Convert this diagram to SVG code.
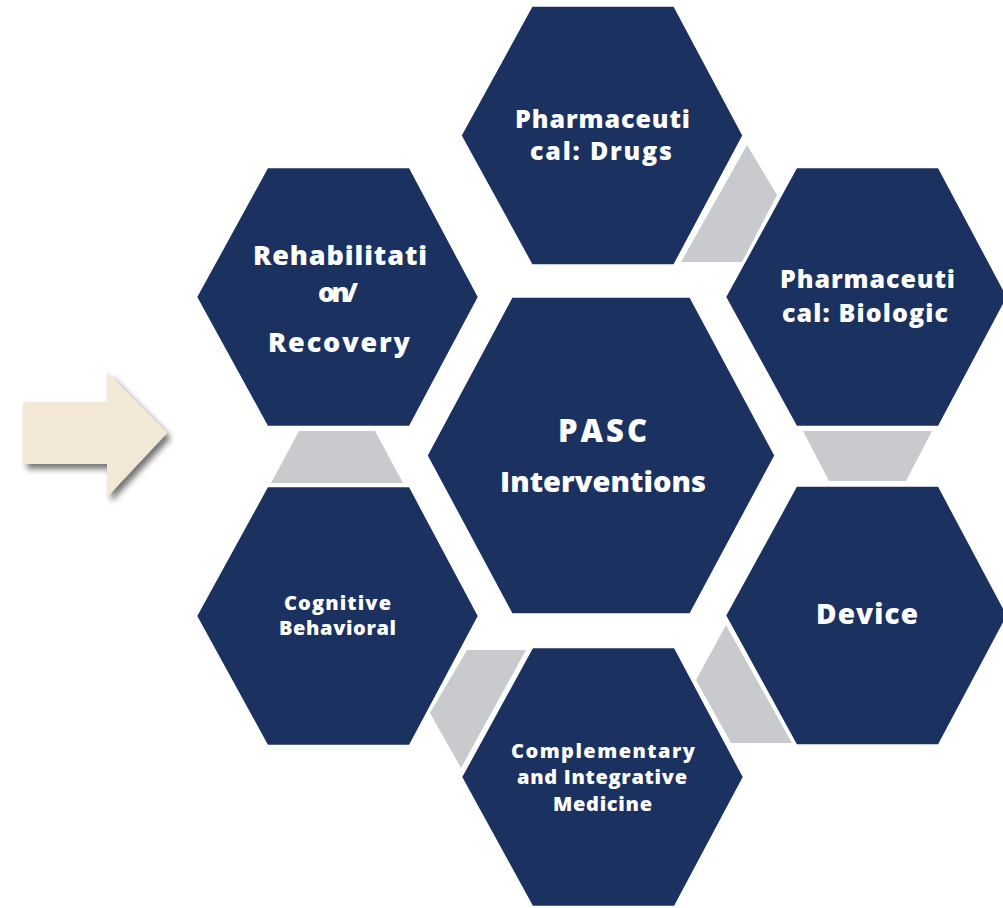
<svg xmlns="http://www.w3.org/2000/svg" width="1003" height="908" viewBox="0 0 1003 908">
  <defs>
    <!-- outer hexagon, centred on the origin -->
    <polygon id="hex" points="-141,0 -70,-129.5 72,-129.5 141,0 72,129.5 -70,129.5"/>
    <!-- larger centre hexagon -->
    <polygon id="hexBig" points="-174,0 -89,-158.5 89,-158.5 174,0 89,158.5 -89,158.5"/>
    <filter id="shadow" x="-20%" y="-20%" width="150%" height="160%">
      <feGaussianBlur in="SourceAlpha" stdDeviation="3"/>
      <feOffset dx="4" dy="5" result="b"/>
      <feComponentTransfer><feFuncA type="linear" slope="0.55"/></feComponentTransfer>
      <feMerge><feMergeNode/><feMergeNode in="SourceGraphic"/></feMerge>
    </filter>
    <style>
      .hex { fill: #1B3160; stroke: #ffffff; stroke-width: 1.5; }
      .link { fill: #C9CACE; }
      .lbl { fill: #ffffff; font-family: "Open Sans", "Lato", "Liberation Sans", sans-serif; font-weight: 800; text-anchor: middle; font-variant-ligatures: none; }
      .big { font-size: 29px; }
      .cap { font-size: 31px; }
      .dev { font-size: 28px; }
      .mid { font-size: 25px; }
      .lg { font-size: 27px; }
      .small { font-size: 20px; }
    </style>
  </defs>

  <rect width="1003" height="908" fill="#ffffff"/>

  <!-- pointer arrow -->
  <g id="pointer">
    <polygon points="23,402 107,402 107,372 167,433 107,497 107,464 23,464" fill="#F3E8D6" filter="url(#shadow)"/>
  </g>

  <!-- grey links between neighbouring hexagons -->
  <g id="connectors">
    <polygon class="link" points="747,145 777,195 742,262 681,262"/>
    <polygon class="link" points="803,431 932,431 906,481 829,481"/>
    <polygon class="link" points="726,625 792,743 731,743 696,680"/>
    <polygon class="link" points="467,650 526,650 461,768 430,713"/>
    <polygon class="link" points="299,431 375,431 403,483 271,483"/>
  </g>

  <g id="center">
    <use href="#hexBig" class="hex" x="601" y="455.5"/>
    <text class="lbl cap" x="602.5" y="442" textLength="89" lengthAdjust="spacing">PASC</text>
    <text class="lbl big" x="603" y="492" textLength="206" lengthAdjust="spacing">Interventions</text>
  </g>

  <g id="drugs">
    <use href="#hex" class="hex" x="602" y="135.5"/>
    <text class="lbl mid" x="602.5" y="128" textLength="175" lengthAdjust="spacing">Pharmaceuti</text>
    <text class="lbl mid" x="601" y="160" textLength="142" lengthAdjust="spacing">cal: Drugs</text>
  </g>

  <g id="biologic">
    <use href="#hex" class="hex" x="866.5" y="297"/>
    <text class="lbl mid" x="867.5" y="288" textLength="175" lengthAdjust="spacing">Pharmaceuti</text>
    <text class="lbl mid" x="865" y="322" textLength="166" lengthAdjust="spacing">cal: Biologic</text>
  </g>

  <g id="device">
    <use href="#hex" class="hex" x="866.5" y="615.5"/>
    <text class="lbl dev" x="867" y="624" textLength="102" lengthAdjust="spacing">Device</text>
  </g>

  <g id="complementary">
    <use href="#hex" class="hex" x="602.5" y="777"/>
    <text class="lbl small" x="603" y="758" textLength="184" lengthAdjust="spacing">Complementary</text>
    <text class="lbl small" x="602" y="784" textLength="170" lengthAdjust="spacing">and Integrative</text>
    <text class="lbl small" x="602.5" y="811" textLength="99" lengthAdjust="spacing">Medicine</text>
  </g>

  <g id="cognitive">
    <use href="#hex" class="hex" x="337.5" y="616"/>
    <text class="lbl small" x="337.5" y="610" textLength="107" lengthAdjust="spacing">Cognitive</text>
    <text class="lbl small" x="337.5" y="635" textLength="117" lengthAdjust="spacing">Behavioral</text>
  </g>

  <g id="rehab">
    <use href="#hex" class="hex" x="337.5" y="297"/>
    <text class="lbl lg" x="340" y="265" textLength="174" lengthAdjust="spacing">Rehabilitati</text>
    <text class="lbl lg" x="338" y="302" textLength="40" lengthAdjust="spacing">on/</text>
    <text class="lbl lg" x="339" y="352" textLength="142" lengthAdjust="spacing">Recovery</text>
  </g>
</svg>
